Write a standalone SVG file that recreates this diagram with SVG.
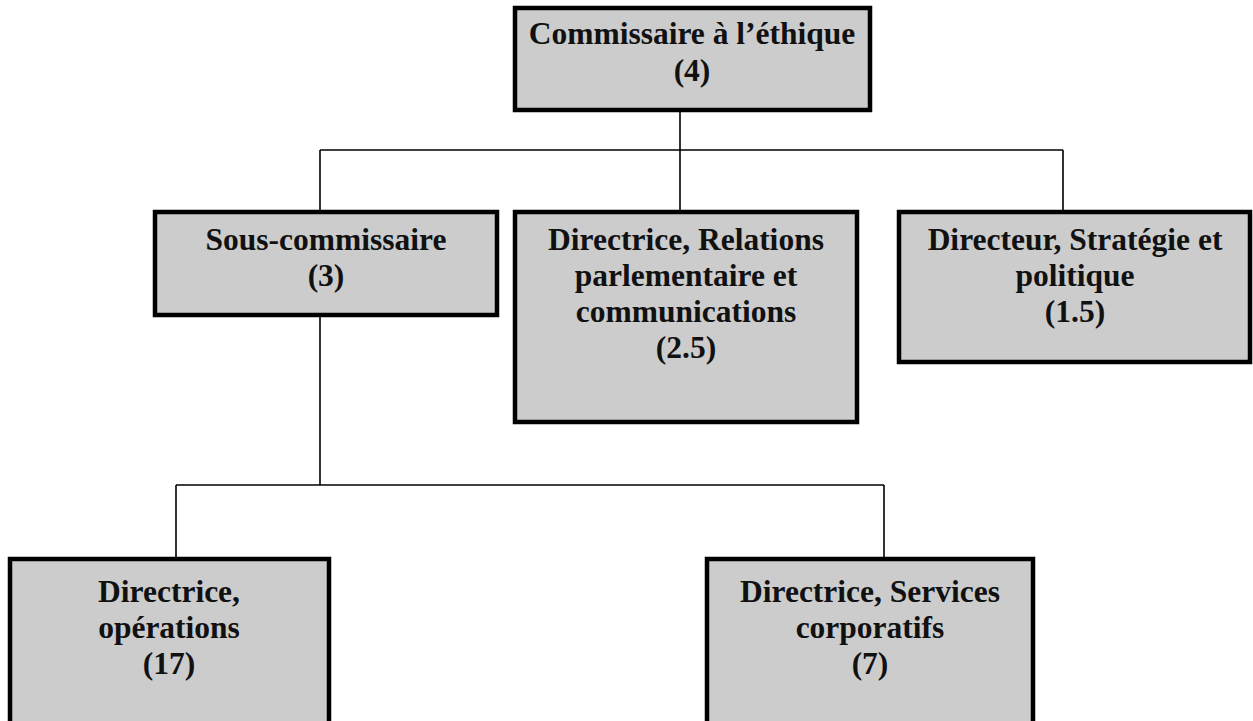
<svg xmlns="http://www.w3.org/2000/svg" width="1253" height="721" viewBox="0 0 1253 721">
<style>
.box{fill:#cccccc;stroke:#000;stroke-width:4.5}
.conn{stroke:#000;stroke-width:1.6;fill:none}
.t{font-family:"Liberation Serif","Times New Roman",serif;font-weight:bold;font-size:31.5px;fill:#111;text-anchor:middle}
</style>
<rect width="1253" height="721" fill="#fff"/>
<g id="connectors">
<path class="conn" d="M680,110 V150 M320,150 H1063 M320,150 V212 M680,150 V212 M1063,150 V212"/>
<path class="conn" d="M320,315 V485 M176,485 H884 M176,485 V559 M884,485 V559"/>
</g>
<g id="n1">
<rect class="box" x="515" y="8" width="355" height="102"/>
<text class="t" x="692" y="44">Commissaire à l’éthique</text>
<text class="t" x="692" y="81">(4)</text>
</g>
<g id="n2">
<rect class="box" x="155" y="212" width="342" height="103"/>
<text class="t" x="326" y="250">Sous-commissaire</text>
<text class="t" x="326" y="286">(3)</text>
</g>
<g id="n3">
<rect class="box" x="515" y="212" width="342" height="210"/>
<text class="t" x="686" y="250">Directrice, Relations</text>
<text class="t" x="686" y="286">parlementaire et</text>
<text class="t" x="686" y="322">communications</text>
<text class="t" x="686" y="358">(2.5)</text>
</g>
<g id="n4">
<rect class="box" x="899" y="212" width="351" height="150"/>
<text class="t" x="1075" y="250">Directeur, Stratégie et</text>
<text class="t" x="1075" y="286">politique</text>
<text class="t" x="1075" y="322">(1.5)</text>
</g>
<g id="n5">
<rect class="box" x="10" y="559" width="319" height="200"/>
<text class="t" x="169" y="602">Directrice,</text>
<text class="t" x="169" y="638">opérations</text>
<text class="t" x="169" y="674">(17)</text>
</g>
<g id="n6">
<rect class="box" x="707" y="559" width="326" height="200"/>
<text class="t" x="870" y="602">Directrice, Services</text>
<text class="t" x="870" y="638">corporatifs</text>
<text class="t" x="870" y="674">(7)</text>
</g>
</svg>
